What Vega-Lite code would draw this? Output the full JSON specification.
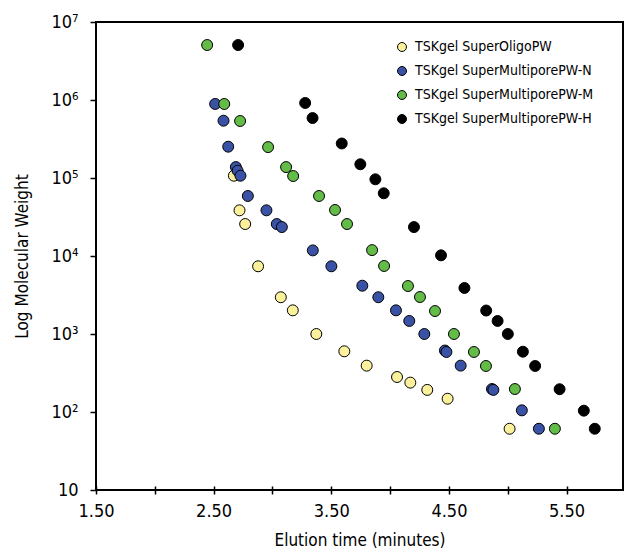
{
  "$schema": "https://vega.github.io/schema/vega-lite/v6.json",
  "autosize": {"type": "none"},
  "width": 527,
  "height": 468,
  "padding": {"left": 96, "top": 22, "right": 1, "bottom": 64},
  "background": "white",
  "config": {
    "font": "Liberation Sans Narrow, DejaVu Sans Condensed, sans-serif",
    "view": {"stroke": "black", "strokeWidth": 2},
    "axis": {
      "labelFont": "Liberation Sans Narrow, DejaVu Sans Condensed, sans-serif",
      "titleFont": "Liberation Sans Narrow, DejaVu Sans Condensed, sans-serif",
      "labelColor": "black",
      "titleColor": "black",
      "tickColor": "black",
      "grid": false,
      "domain": false,
      "labelFlush": false,
      "titleFontWeight": "normal"
    }
  },
  "data": {
    "values": [
      {"series": "TSKgel SuperOligoPW", "time": 2.672, "mw": 107000},
      {"series": "TSKgel SuperOligoPW", "time": 2.720, "mw": 38500},
      {"series": "TSKgel SuperOligoPW", "time": 2.768, "mw": 25700},
      {"series": "TSKgel SuperOligoPW", "time": 2.878, "mw": 7380},
      {"series": "TSKgel SuperOligoPW", "time": 3.071, "mw": 2960},
      {"series": "TSKgel SuperOligoPW", "time": 3.173, "mw": 2010},
      {"series": "TSKgel SuperOligoPW", "time": 3.373, "mw": 1000},
      {"series": "TSKgel SuperOligoPW", "time": 3.611, "mw": 600},
      {"series": "TSKgel SuperOligoPW", "time": 3.801, "mw": 393},
      {"series": "TSKgel SuperOligoPW", "time": 4.059, "mw": 281},
      {"series": "TSKgel SuperOligoPW", "time": 4.172, "mw": 238},
      {"series": "TSKgel SuperOligoPW", "time": 4.316, "mw": 192},
      {"series": "TSKgel SuperOligoPW", "time": 4.489, "mw": 148},
      {"series": "TSKgel SuperOligoPW", "time": 5.016, "mw": 61},

      {"series": "TSKgel SuperMultiporePW-N", "time": 2.513, "mw": 890000},
      {"series": "TSKgel SuperMultiporePW-N", "time": 2.584, "mw": 543000},
      {"series": "TSKgel SuperMultiporePW-N", "time": 2.624, "mw": 252000},
      {"series": "TSKgel SuperMultiporePW-N", "time": 2.689, "mw": 138000},
      {"series": "TSKgel SuperMultiporePW-N", "time": 2.704, "mw": 124000},
      {"series": "TSKgel SuperMultiporePW-N", "time": 2.728, "mw": 107000},
      {"series": "TSKgel SuperMultiporePW-N", "time": 2.791, "mw": 58800},
      {"series": "TSKgel SuperMultiporePW-N", "time": 2.949, "mw": 38500},
      {"series": "TSKgel SuperMultiporePW-N", "time": 3.037, "mw": 25700},
      {"series": "TSKgel SuperMultiporePW-N", "time": 3.080, "mw": 23500},
      {"series": "TSKgel SuperMultiporePW-N", "time": 3.343, "mw": 11800},
      {"series": "TSKgel SuperMultiporePW-N", "time": 3.501, "mw": 7380},
      {"series": "TSKgel SuperMultiporePW-N", "time": 3.764, "mw": 4160},
      {"series": "TSKgel SuperMultiporePW-N", "time": 3.900, "mw": 2960},
      {"series": "TSKgel SuperMultiporePW-N", "time": 4.050, "mw": 2010},
      {"series": "TSKgel SuperMultiporePW-N", "time": 4.163, "mw": 1470},
      {"series": "TSKgel SuperMultiporePW-N", "time": 4.291, "mw": 1000},
      {"series": "TSKgel SuperMultiporePW-N", "time": 4.466, "mw": 614},
      {"series": "TSKgel SuperMultiporePW-N", "time": 4.479, "mw": 588},
      {"series": "TSKgel SuperMultiporePW-N", "time": 4.600, "mw": 393},
      {"series": "TSKgel SuperMultiporePW-N", "time": 4.866, "mw": 197},
      {"series": "TSKgel SuperMultiporePW-N", "time": 4.878, "mw": 192},
      {"series": "TSKgel SuperMultiporePW-N", "time": 5.120, "mw": 105},
      {"series": "TSKgel SuperMultiporePW-N", "time": 5.265, "mw": 61},

      {"series": "TSKgel SuperMultiporePW-M", "time": 2.445, "mw": 5070000},
      {"series": "TSKgel SuperMultiporePW-M", "time": 2.590, "mw": 889000},
      {"series": "TSKgel SuperMultiporePW-M", "time": 2.725, "mw": 538000},
      {"series": "TSKgel SuperMultiporePW-M", "time": 2.963, "mw": 249000},
      {"series": "TSKgel SuperMultiporePW-M", "time": 3.116, "mw": 138000},
      {"series": "TSKgel SuperMultiporePW-M", "time": 3.176, "mw": 106000},
      {"series": "TSKgel SuperMultiporePW-M", "time": 3.396, "mw": 58800},
      {"series": "TSKgel SuperMultiporePW-M", "time": 3.532, "mw": 38900},
      {"series": "TSKgel SuperMultiporePW-M", "time": 3.634, "mw": 25700},
      {"series": "TSKgel SuperMultiporePW-M", "time": 3.847, "mw": 11900},
      {"series": "TSKgel SuperMultiporePW-M", "time": 3.949, "mw": 7450},
      {"series": "TSKgel SuperMultiporePW-M", "time": 4.152, "mw": 4120},
      {"series": "TSKgel SuperMultiporePW-M", "time": 4.254, "mw": 2980},
      {"series": "TSKgel SuperMultiporePW-M", "time": 4.382, "mw": 1970},
      {"series": "TSKgel SuperMultiporePW-M", "time": 4.543, "mw": 1000},
      {"series": "TSKgel SuperMultiporePW-M", "time": 4.713, "mw": 588},
      {"series": "TSKgel SuperMultiporePW-M", "time": 4.815, "mw": 389},
      {"series": "TSKgel SuperMultiporePW-M", "time": 5.061, "mw": 197},
      {"series": "TSKgel SuperMultiporePW-M", "time": 5.401, "mw": 61},

      {"series": "TSKgel SuperMultiporePW-H", "time": 2.708, "mw": 5070000},
      {"series": "TSKgel SuperMultiporePW-H", "time": 3.278, "mw": 916000},
      {"series": "TSKgel SuperMultiporePW-H", "time": 3.341, "mw": 587000},
      {"series": "TSKgel SuperMultiporePW-H", "time": 3.589, "mw": 277000},
      {"series": "TSKgel SuperMultiporePW-H", "time": 3.747, "mw": 150000},
      {"series": "TSKgel SuperMultiporePW-H", "time": 3.875, "mw": 96200},
      {"series": "TSKgel SuperMultiporePW-H", "time": 3.946, "mw": 63700},
      {"series": "TSKgel SuperMultiporePW-H", "time": 4.203, "mw": 23500},
      {"series": "TSKgel SuperMultiporePW-H", "time": 4.433, "mw": 10200},
      {"series": "TSKgel SuperMultiporePW-H", "time": 4.632, "mw": 3890},
      {"series": "TSKgel SuperMultiporePW-H", "time": 4.817, "mw": 2000},
      {"series": "TSKgel SuperMultiporePW-H", "time": 4.914, "mw": 1470},
      {"series": "TSKgel SuperMultiporePW-H", "time": 5.001, "mw": 1000},
      {"series": "TSKgel SuperMultiporePW-H", "time": 5.129, "mw": 593},
      {"series": "TSKgel SuperMultiporePW-H", "time": 5.233, "mw": 389},
      {"series": "TSKgel SuperMultiporePW-H", "time": 5.441, "mw": 196},
      {"series": "TSKgel SuperMultiporePW-H", "time": 5.647, "mw": 104},
      {"series": "TSKgel SuperMultiporePW-H", "time": 5.740, "mw": 61}
    ]
  },
  "mark": {"type": "point", "filled": true, "size": 120, "stroke": "black", "strokeWidth": 1, "opacity": 1},
  "encoding": {
    "x": {
      "field": "time",
      "type": "quantitative",
      "scale": {"domain": [1.5, 5.98], "nice": false, "zero": false},
      "axis": {
        "title": "Elution time (minutes)",
        "titleFontSize": 17,
        "titlePadding": 12,
        "values": [1.5, 2, 2.5, 3, 3.5, 4, 4.5, 5, 5.5],
        "labelExpr": "(datum.value * 2) % 2 == 1 ? format(datum.value, '.2f') : ''",
        "labelFontSize": 18,
        "labelPadding": 8,
        "offset": -4,
        "tickSize": 8,
        "tickWidth": 1.5
      }
    },
    "y": {
      "field": "mw",
      "type": "quantitative",
      "scale": {"type": "log", "domain": [10, 10000000], "nice": false},
      "axis": {
        "title": "Log Molecular Weight",
        "titleFontSize": 17,
        "titlePadding": 19,
        "values": [10, 100, 1000, 10000, 100000, 1000000, 10000000],
        "labelExpr": "datum.value < 11 ? '10' : '10' + ['', '', '²', '³', '⁴', '⁵', '⁶', '⁷'][round(log(datum.value) / LN10)]",
        "labelFontSize": 18,
        "labelPadding": 12,
        "tickSize": 6,
        "tickWidth": 1.5
      }
    },
    "color": {
      "field": "series",
      "type": "nominal",
      "scale": {
        "domain": ["TSKgel SuperOligoPW", "TSKgel SuperMultiporePW-N", "TSKgel SuperMultiporePW-M", "TSKgel SuperMultiporePW-H"],
        "range": ["#FBF19C", "#3A52A5", "#63BC47", "#000000"]
      },
      "legend": {
        "title": null,
        "orient": "none",
        "legendX": 299,
        "legendY": 18,
        "padding": 0,
        "symbolType": "circle",
        "symbolSize": 80,
        "symbolStrokeColor": "black",
        "symbolStrokeWidth": 1,
        "symbolOpacity": 1,
        "labelFontSize": 14,
        "labelColor": "black",
        "labelOffset": 6,
        "labelLimit": 400,
        "rowPadding": 10
      }
    }
  }
}
